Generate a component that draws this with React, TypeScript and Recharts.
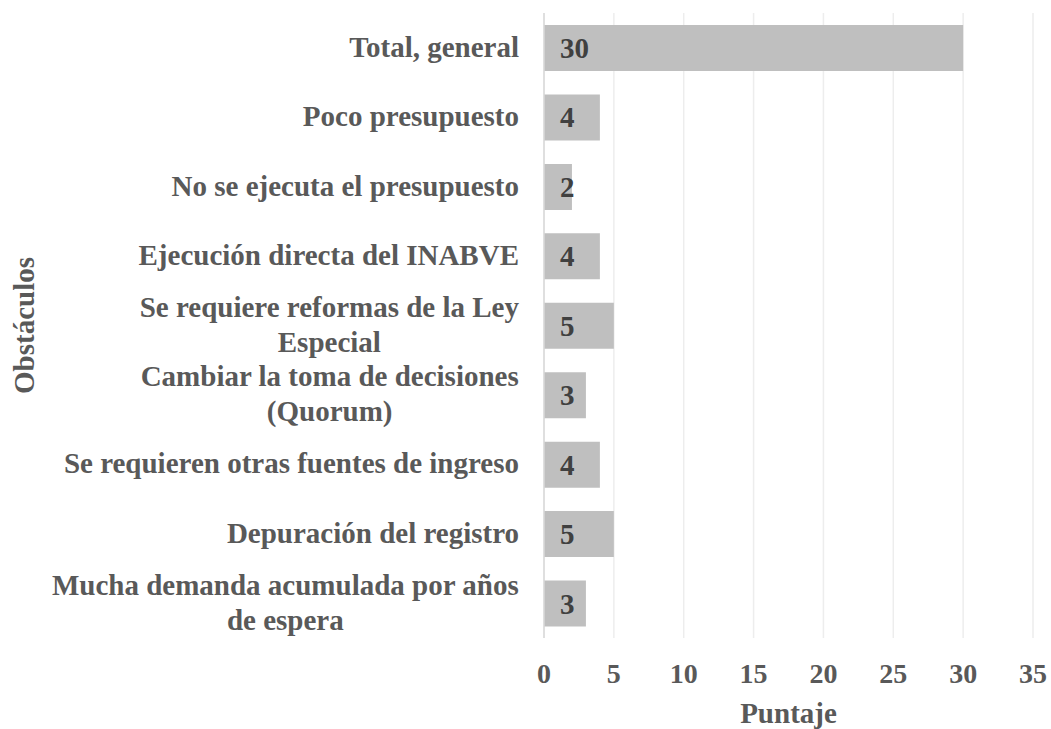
import { BarChart, Bar, XAxis, YAxis, CartesianGrid, LabelList, Label } from 'recharts';

const FONT = '"Liberation Serif", "Times New Roman", serif';
const TEXT = '#595959';
const BAR = '#bfbfbf';

const categories = [
  'Total, general',
  'Poco presupuesto',
  'No se ejecuta el presupuesto',
  'Ejecución directa del INABVE',
  'Se requiere reformas de la Ley Especial',
  'Cambiar la toma de decisiones (Quorum)',
  'Se requieren otras fuentes de ingreso',
  'Depuración del registro',
  'Mucha demanda acumulada por años de espera',
];
const puntaje = [30, 4, 2, 4, 5, 3, 4, 5, 3];
const xTicks = [0, 5, 10, 15, 20, 25, 30, 35];

const data = categories.map((name, i) => ({ name, puntaje: puntaje[i] }));

let ctx: CanvasRenderingContext2D | null = null;
function textWidth(s: string, size: number) {
  if (!ctx) ctx = document.createElement('canvas').getContext('2d');
  if (!ctx) return s.length * size * 0.5;
  ctx.font = `bold ${size}px ${FONT}`;
  return ctx.measureText(s).width;
}

function wrap(s: string, size: number, max: number) {
  const words = s.split(' ');
  const lines: string[] = [];
  let cur = '';
  for (const w of words) {
    const next = cur ? cur + ' ' + w : w;
    if (cur && textWidth(next, size) > max) {
      lines.push(cur);
      cur = w;
    } else cur = next;
  }
  if (cur) lines.push(cur);
  return lines;
}

// category names, right aligned; wrapped names centred under each other
function CategoryTick({ y, payload }: any) {
  const size = 29;
  const lines = wrap(payload.value, size, 485);
  const right = 519;
  const w = Math.max(...lines.map(l => textWidth(l, size)));
  const cx = right - w / 2;
  return (
    <g>
      {lines.map((l, i) => (
        <text key={i} x={lines.length > 1 ? cx : right} y={y + 9 + (i - (lines.length - 1) / 2) * 35}
              textAnchor={lines.length > 1 ? 'middle' : 'end'}
              fill={TEXT} fontFamily={FONT} fontWeight="bold" fontSize={size}>
          {l}
        </text>
      ))}
    </g>
  );
}

function ValueTick({ x, payload }: any) {
  return (
    <text x={x} y={683} textAnchor="middle" fill={TEXT} fontFamily={FONT} fontWeight="bold" fontSize={28}>
      {payload.value}
    </text>
  );
}

function BarValue({ x, y, height, value }: any) {
  return (
    <text x={x + 16} y={y + height / 2 + 10} textAnchor="start" fill="#404040"
          fontFamily={FONT} fontWeight="bold" fontSize={29}>
      {value}
    </text>
  );
}

export default function App() {
  return (
    <div style={{ position: 'absolute', left: 0, top: 0, background: '#fff' }}>
      <BarChart width={1051} height={729} data={data} layout="vertical"
                margin={{ top: 13, right: 18, left: 0, bottom: 0 }}>
        <CartesianGrid horizontal={false} stroke="#ededed" strokeWidth={1.5} />
        <XAxis type="number" domain={[0, 35]} ticks={xTicks} axisLine={false} tickLine={false}
               height={91} tick={<ValueTick />} interval={0}>
          <Label value="Puntaje" position="insideBottom" offset={6} fill={TEXT}
                 fontFamily={FONT} fontWeight="bold" fontSize={29} />
        </XAxis>
        <YAxis type="category" dataKey="name" width={544} axisLine={{ stroke: '#d9d9d9', strokeWidth: 1.5 }}
               tickLine={false} tick={<CategoryTick />} interval={0}>
          <Label value="Obstáculos" angle={-90} position="insideLeft" offset={0} fill={TEXT}
                 fontFamily={FONT} fontWeight="bold" fontSize={29}
                 style={{ textAnchor: 'middle' }} dx={24} />
        </YAxis>
        <Bar dataKey="puntaje" fill={BAR} barSize={46} isAnimationActive={false}>
          <LabelList dataKey="puntaje" content={<BarValue />} />
        </Bar>
      </BarChart>
    </div>
  );
}
